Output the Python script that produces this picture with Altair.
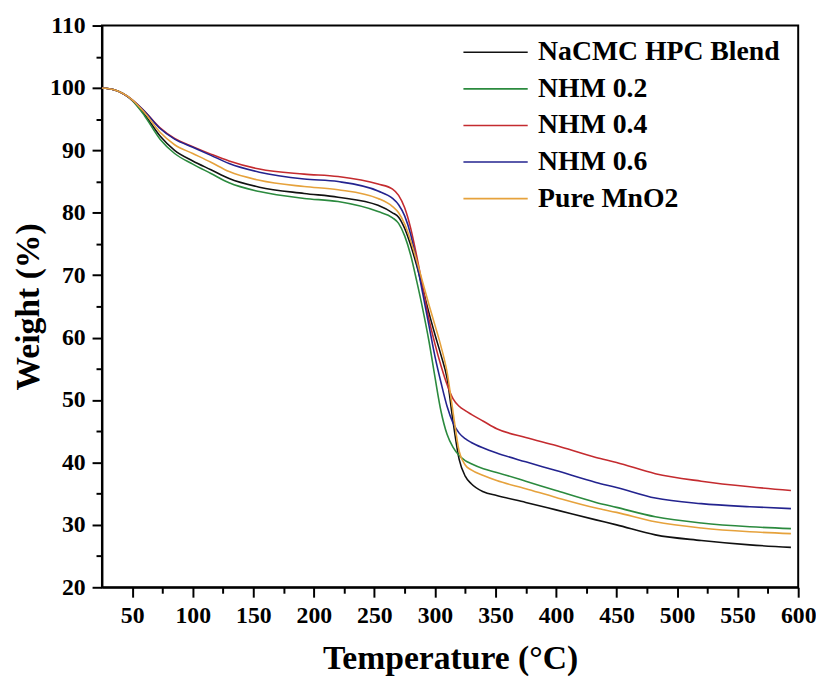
import altair as alt
import pandas as pd

temperature = [25, 35, 50, 60, 73, 85, 100, 115, 130, 155, 192, 220, 253, 265, 270, 275,
               280, 285, 290, 295, 300, 305, 310, 315, 320, 325, 330, 340, 351, 375, 400,
               433, 450, 482, 520, 560, 594]

nacmc_hpc = [100, 99.7, 98.0, 95.8, 92.3, 90.0, 88.3, 86.9, 85.5, 84.1, 83.1, 82.5, 81.2, 80.0,
             79.3, 77.5, 74.8, 71.5, 67.8, 64.0, 60.5, 57.2, 53.5, 46.5, 40.5, 37.8, 36.6, 35.3,
             34.7, 33.6, 32.4, 30.8, 30.0, 28.4, 27.5, 26.8, 26.4]
nhm_02 = [100, 99.7, 98.0, 95.6, 91.8, 89.5, 87.8, 86.3, 84.8, 83.4, 82.3, 81.8, 80.2, 79.2,
          78.3, 76.3, 73.2, 69.0, 64.5, 59.5, 53.7, 48.2, 44.5, 42.4, 41.1, 40.3, 39.8, 39.0,
          38.4, 37.0, 35.5, 33.6, 32.8, 31.3, 30.3, 29.7, 29.4]
nhm_04 = [100, 99.7, 98.1, 96.3, 93.6, 91.9, 90.6, 89.4, 88.3, 87.0, 86.2, 85.8, 84.6, 83.8,
          82.8, 80.8, 77.5, 73.0, 68.0, 63.0, 59.0, 55.5, 52.5, 50.2, 49.0, 48.3, 47.7, 46.6,
          45.4, 44.0, 42.7, 40.8, 40.0, 38.2, 37.0, 36.1, 35.5]
nhm_06 = [100, 99.7, 98.1, 96.3, 93.5, 91.8, 90.5, 89.2, 87.9, 86.5, 85.4, 85.0, 83.5, 82.3,
          81.3, 79.5, 76.5, 72.0, 67.0, 62.0, 57.0, 52.8, 49.0, 46.3, 44.7, 43.8, 43.2, 42.3,
          41.5, 40.1, 38.7, 36.8, 36.0, 34.3, 33.4, 32.9, 32.6]
pure_mno2 = [100, 99.7, 98.1, 96.1, 92.9, 90.9, 89.5, 88.1, 86.6, 85.2, 84.2, 83.7, 82.3, 81.0,
             80.0, 78.2, 75.5, 72.3, 68.8, 65.3, 62.0, 58.6, 54.5, 48.0, 41.8, 39.6, 38.8, 37.9,
             37.1, 35.8, 34.4, 32.7, 32.0, 30.5, 29.5, 28.9, 28.6]

series_names = ["NaCMC HPC Blend", "NHM 0.2", "NHM 0.4", "NHM 0.6", "Pure MnO2"]
series_values = [nacmc_hpc, nhm_02, nhm_04, nhm_06, pure_mno2]
colors = ["#111111", "#2b8a3e", "#c42b2f", "#23238f", "#e6a23c"]

x_ticks = list(range(50, 601, 25))
y_ticks = list(range(20, 111, 5))

rows = []
for name, vals in zip(series_names, series_values):
    for t, v in zip(temperature, vals):
        rows.append({"Temperature": t, "Weight": v, "Sample": name})
df = pd.DataFrame(rows)

font = "Liberation Serif"

chart = alt.Chart(df).mark_line(strokeWidth=1.6, interpolate="monotone").encode(
    x=alt.X(
        "Temperature:Q",
        scale=alt.Scale(domain=[25, 600], nice=False, zero=False),
        axis=alt.Axis(
            title="Temperature (°C)",
            values=x_ticks,
            labelExpr="datum.value % 50 === 0 ? datum.label : ''",
            tickSize=alt.condition("datum.value % 50 === 0", alt.value(10), alt.value(6)),
            labelFlush=False,
            labelPadding=7,
            titlePadding=14,
        ),
    ),
    y=alt.Y(
        "Weight:Q",
        scale=alt.Scale(domain=[20, 110], nice=False, zero=False),
        axis=alt.Axis(
            title="Weight (%)",
            values=y_ticks,
            labelExpr="datum.value % 10 === 0 ? datum.label : ''",
            tickSize=alt.condition("datum.value % 10 === 0", alt.value(10), alt.value(6)),
            labelFlush=False,
            labelPadding=7,
            titlePadding=4,
        ),
    ),
    color=alt.Color(
        "Sample:N",
        scale=alt.Scale(domain=series_names, range=colors),
        legend=alt.Legend(
            title=None,
            orient="none",
            legendX=384,
            legendY=13,
            symbolType="M-6.5,0H6.5",
            symbolSize=100,
            symbolStrokeWidth=1.6,
            labelFont=font,
            labelFontSize=28,
            labelFontWeight="bold",
            labelColor="black",
            labelOffset=29,
            rowPadding=9,
            padding=0,
            labelLimit=400,
        ),
    ),
).properties(
    width=704,
    height=568,
    padding={"left": 4, "top": 2, "right": 0, "bottom": 0},
).configure_view(
    stroke="black", strokeWidth=2
).configure_axis(
    grid=False,
    domainColor="black",
    domainWidth=2,
    tickColor="black",
    tickWidth=2,
    labelFont=font,
    labelFontSize=24,
    labelFontWeight="bold",
    labelColor="black",
    titleFont=font,
    titleFontSize=34,
    titleFontWeight="bold",
    titleColor="black",
)

chart.save("out.html", embed_options={"renderer": "svg", "actions": False})
